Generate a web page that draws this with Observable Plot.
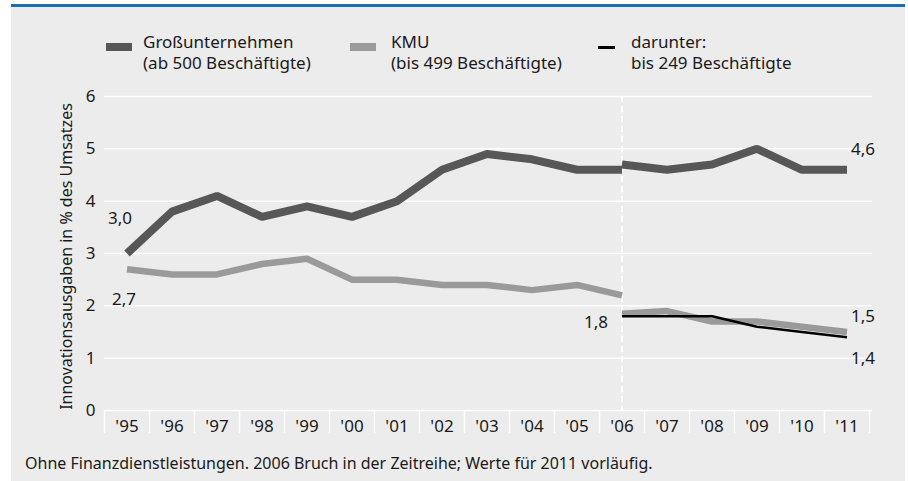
<!DOCTYPE html>
<html>
<head>
<meta charset="utf-8">
<script src="https://cdn.jsdelivr.net/npm/d3@7"></script>
<script src="https://cdn.jsdelivr.net/npm/@observablehq/plot@0.6"></script>
<style>
  html, body { margin: 0; padding: 0; background: #fff; }
  #wrap { position: relative; width: 908px; height: 481px; overflow: hidden; font-family: "Noto Sans", sans-serif; color: #1a1a1a; }
  #panel { position: absolute; left: 11px; top: 7px; width: 894px; height: 474px; background: #ececec; }
  #bar { position: absolute; left: 11px; top: 4px; width: 894px; height: 3px; background: #1d6db5; }
  #chart { position: absolute; left: 0; top: 0; }
  .leg { position: absolute; top: 31px; font-size: 17px; line-height: 21px; white-space: nowrap; }
  .sw { position: absolute; }
  #caption { position: absolute; left: 25px; top: 452px; font-size: 16px; line-height: 22px; color: #1a1a1a; white-space: nowrap; }
</style>
</head>
<body>
<div id="wrap">
  <div id="panel"></div>
  <div id="bar"></div>
  <div id="chart"></div>
  <div class="sw" style="left:106px;top:43px;width:26px;height:8px;background:#575757"></div>
  <div class="leg" style="left:143px">Großunternehmen<br>(ab 500 Beschäftigte)</div>
  <div class="sw" style="left:350px;top:43px;width:26px;height:8px;background:#9a9a9a"></div>
  <div class="leg" style="left:391px">KMU<br>(bis 499 Beschäftigte)</div>
  <div class="sw" style="left:598px;top:46px;width:17px;height:3px;background:#000"></div>
  <div class="leg" style="left:631px">darunter:<br>bis 249 Beschäftigte</div>
  <div id="caption">Ohne Finanzdienstleistungen. 2006 Bruch in der Zeitreihe; Werte für 2011 vorläufig.</div>
</div>
<script>
const years = [1995,1996,1997,1998,1999,2000,2001,2002,2003,2004,2005,2006,2007,2008,2009,2010,2011];
const yearLabels = ["'95","'96","'97","'98","'99","'00","'01","'02","'03","'04","'05","'06","'07","'08","'09","'10","'11"];
const yTicks = [0,1,2,3,4,5,6];
const yTitle = "Innovationsausgaben in % des Umsatzes";

// 1995–2006 (old series) and 2006–2011 (new series after break)
const grossOld = [3.0,3.8,4.1,3.7,3.9,3.7,4.0,4.6,4.9,4.8,4.6,4.6];
const grossNew = [4.7,4.6,4.7,5.0,4.6,4.6];
const kmuOld   = [2.7,2.6,2.6,2.8,2.9,2.5,2.5,2.4,2.4,2.3,2.4,2.2];
const kmuNew   = [1.85,1.9,1.7,1.7,1.6,1.5];
const bis249   = [1.8,1.8,1.8,1.6,1.5,1.4];

const oldYears = years.slice(0, 12);
const newYears = years.slice(11);
const toRows = (xs, vs) => xs.map((x, i) => ({x, y: vs[i]}));

const gOld = toRows(oldYears, grossOld);
const gNew = toRows(newYears, grossNew);
const kOld = toRows(oldYears, kmuOld);
const kNew = toRows(newYears, kmuNew);
const u249 = toRows(newYears, bis249);
const fmt = v => v.toFixed(1).replace(".", ",");
const last = a => a[a.length - 1];

const font = "Noto Sans";
const lineStyle = {x: "x", y: "y", strokeLinejoin: "miter", strokeLinecap: "butt"};
const plot = Plot.plot({
  width: 908,
  height: 440,
  marginTop: 96,
  marginBottom: 30,
  marginLeft: 104,
  marginRight: 39,
  style: {background: "transparent", fontFamily: font, fontSize: "17px", color: "#1a1a1a"},
  x: {type: "linear", domain: [years[0] - 0.5, last(years) + 0.5], label: null},
  y: {domain: [0, 6], label: null},
  marks: [
    Plot.ruleY(yTicks, {stroke: "#fff", strokeWidth: 1.5, x1: years[0] - 0.5, x2: last(years) + 0.57}),
    Plot.ruleX([2006], {stroke: "#fff", strokeWidth: 2, strokeDasharray: "6,4"}),
    Plot.axisX(years.map(y => y - 0.5).concat([last(years) + 0.5]), {tickSize: 23, stroke: "#fff", strokeWidth: 1.5, tickFormat: () => "", label: null}),
    Plot.axisX(years, {tickSize: 0, tickPadding: 9, tickFormat: (d, i) => yearLabels[i], fontSize: 17, label: null}),
    Plot.axisY(yTicks, {tickSize: 0, tickPadding: 9, tickFormat: d => String(d), fontSize: 17, label: null}),
    Plot.text([0], {text: () => yTitle, frameAnchor: "left", textAnchor: "middle", rotate: -90, dx: -38, dy: 3, fontSize: 16}),
    Plot.line(kOld, {...lineStyle, stroke: "#9a9a9a", strokeWidth: 6.5}),
    Plot.line(kNew, {...lineStyle, stroke: "#9a9a9a", strokeWidth: 6.5}),
    Plot.line(u249, {...lineStyle, stroke: "#000", strokeWidth: 2.5}),
    Plot.line(gOld, {...lineStyle, stroke: "#575757", strokeWidth: 8}),
    Plot.line(gNew, {...lineStyle, stroke: "#575757", strokeWidth: 8}),
    Plot.text([gOld[0]], {x: "x", y: "y", text: d => fmt(d.y), dx: -7, dy: -35, fontSize: 17}),
    Plot.text([kOld[0]], {x: "x", y: "y", text: d => fmt(d.y), dx: -3, dy: 30, fontSize: 17}),
    Plot.text([u249[0]], {x: "x", y: "y", text: d => fmt(d.y), dx: -14, dy: 6, textAnchor: "end", fontSize: 17}),
    Plot.text([last(gNew)], {x: "x", y: "y", text: d => fmt(d.y), dx: 16, dy: -20, fontSize: 17}),
    Plot.text([last(kNew)], {x: "x", y: "y", text: d => fmt(d.y), dx: 16, dy: -15, fontSize: 17}),
    Plot.text([last(u249)], {x: "x", y: "y", text: d => fmt(d.y), dx: 16, dy: 21, fontSize: 17})
  ]
});
document.getElementById("chart").appendChild(plot);
</script>
</body>
</html>
